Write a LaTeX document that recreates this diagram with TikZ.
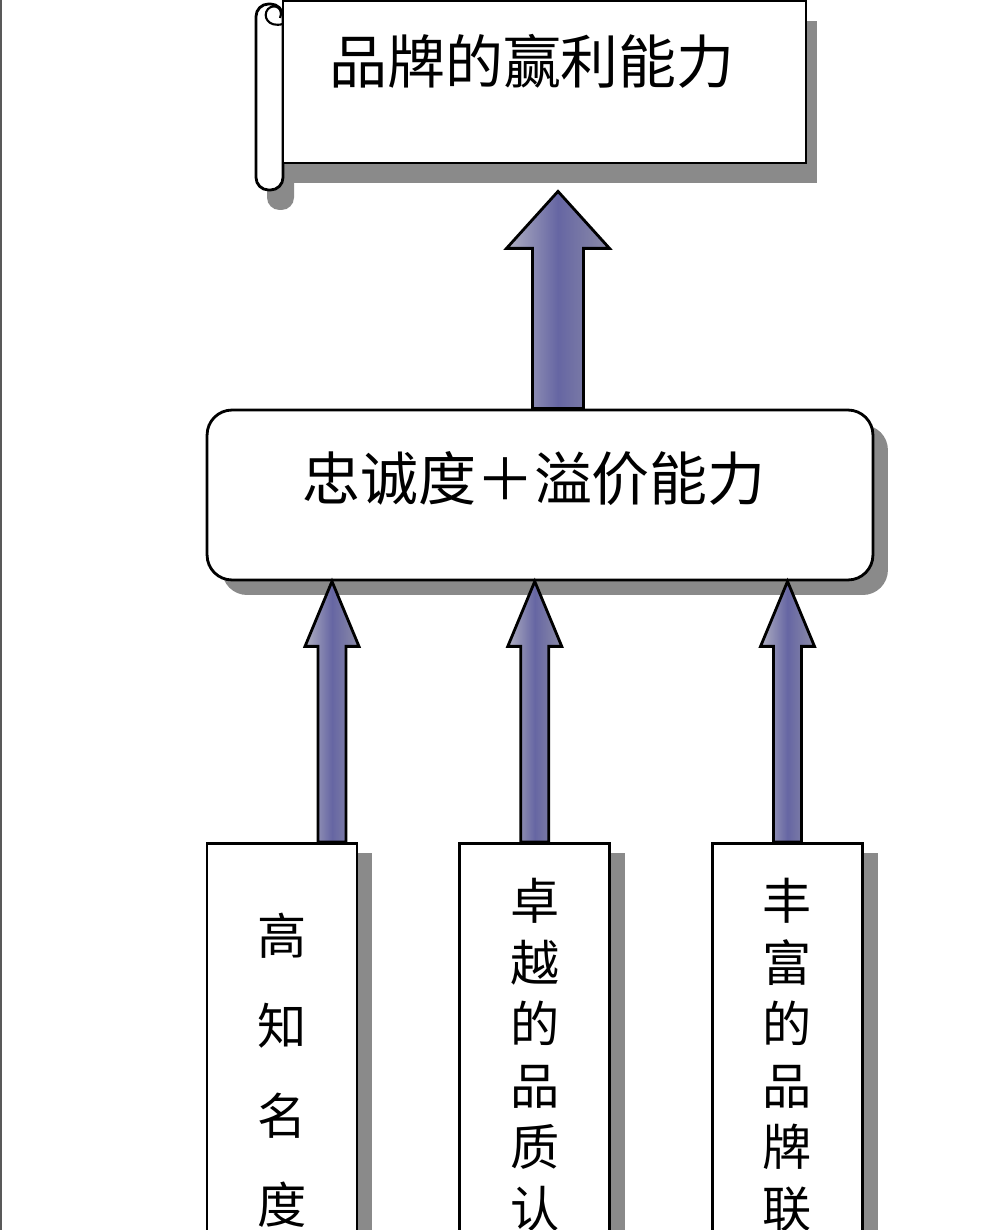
\documentclass[tikz,border=0pt]{standalone}
\usepackage{fontspec}
\newfontfamily\cjk{Noto Sans CJK SC}
\usepackage{tikz}
\usetikzlibrary{positioning,calc,shadows}
\definecolor{shadowgray}{HTML}{8A8A8A}
\definecolor{arrowmid}{HTML}{6666A3}
\definecolor{arrowleft}{HTML}{B0B0C2}
\definecolor{arrowright}{HTML}{8C8CA8}
\tikzset{node distance=2cm, auto,
  box/.style={draw, line width=1.6pt, fill=white, inner sep=0pt},
  plaque/.style={box, minimum width=10.46cm, text height=1.66cm, text depth=1.58cm,
    font=\cjk\fontsize{33pt}{40pt}\selectfont,
    drop shadow={shadow xshift=0.22cm, shadow yshift=-0.4cm, fill=shadowgray, opacity=1}},
  rod/.style={draw, line width=1.6pt, fill=white, rounded corners=0.25cm,
    drop shadow={shadow xshift=0.22cm, shadow yshift=-0.4cm, fill=shadowgray, opacity=1}},
  loyalbox/.style={box, rounded corners=0.5cm, minimum width=13.32cm,
    text height=1.8cm, text depth=1.6cm, font=\cjk\fontsize{33pt}{40pt}\selectfont,
    drop shadow={shadow xshift=0.3cm, shadow yshift=-0.3cm, fill=shadowgray, opacity=1}},
  column/.style={box, minimum width=3cm, minimum height=9cm,
    drop shadow={shadow xshift=0.3cm, shadow yshift=-0.2cm, fill=shadowgray, opacity=1}},
  coltext/.style={inner sep=0pt, align=center, anchor=north},
  arrowfill/.style={draw, line width=1.6pt, left color=arrowleft, right color=arrowright,
    middle color=arrowmid}
}
% fat arrow: start, tip, half shaft, half head, head length
\newcommand{\fatarrow}[5]{%
  \path[arrowfill] ($(#1)+(-#3,0)$) -- ($(#2)+(-#3,#5)$) -- ($(#2)+(-#4,#5)$)
    -- (#2) -- ($(#2)+(#4,#5)$) -- ($(#2)+(#3,#5)$) -- ($(#1)+(#3,0)$) -- cycle;}

\begin{document}
\begin{tikzpicture}[x=0.02cm, y=-0.02cm]

  \clip (0,0) rectangle (1004,1230);
  \fill[white] (0,0) rectangle (1004,1230);
  \draw[line width=0.04cm, black!65] (1,0) -- (1,1230);

  % scroll
  \draw[rod] (256,4) rectangle (283,190);
  \draw[line width=1.2pt] (283,24) .. controls (268,28) and (262,16) .. (268,9)
    .. controls (274,3) and (284,8) .. (280,18);

  \node[plaque, anchor=base] (Win) at (544.5,84) {品牌的赢利能力\kern0.5cm};
  \node[loyalbox, anchor=base] (Loy) at (540,500) {忠诚度＋溢价能力\kern0.24cm};

  \node[column, anchor=north] (Fam) at (282,842) {};
  \node[column] (Qua) [right=of Fam] {};
  \node[column] (Ass) [right=of Qua] {};

  \node[coltext, font=\cjk\fontsize{28pt}{51pt}\selectfont] (FamT)
    at ([yshift=-1.42cm]Fam.north) {高\\知\\名\\度};
  \node[coltext, font=\cjk\fontsize{28pt}{35pt}\selectfont] (QuaT)
    at ([yshift=-0.72cm]Qua.north) {卓\\越\\的\\品\\质\\认};
  \node[coltext, font=\cjk\fontsize{28pt}{35pt}\selectfont] (AssT)
    at ([yshift=-0.72cm]Ass.north) {丰\\富\\的\\品\\牌\\联};

  \coordinate (w0) at ([xshift=0.27cm, yshift=-0.54cm]Win.south);
  \coordinate (w1) at (w0 |- Loy.north);
  \fatarrow{w1}{w0}{25.5}{51.5}{57}

  \coordinate (f1) at ([xshift=1cm]Fam.north);
  \coordinate (f0) at (f1 |- Loy.south);
  \fatarrow{f1}{f0}{14}{27}{65}
  \coordinate (q1) at (Qua.north);
  \coordinate (q0) at (q1 |- Loy.south);
  \fatarrow{q1}{q0}{14}{27}{65}
  \coordinate (a1) at (Ass.north);
  \coordinate (a0) at (a1 |- Loy.south);
  \fatarrow{a1}{a0}{14}{27}{65}

\end{tikzpicture}
\end{document}
